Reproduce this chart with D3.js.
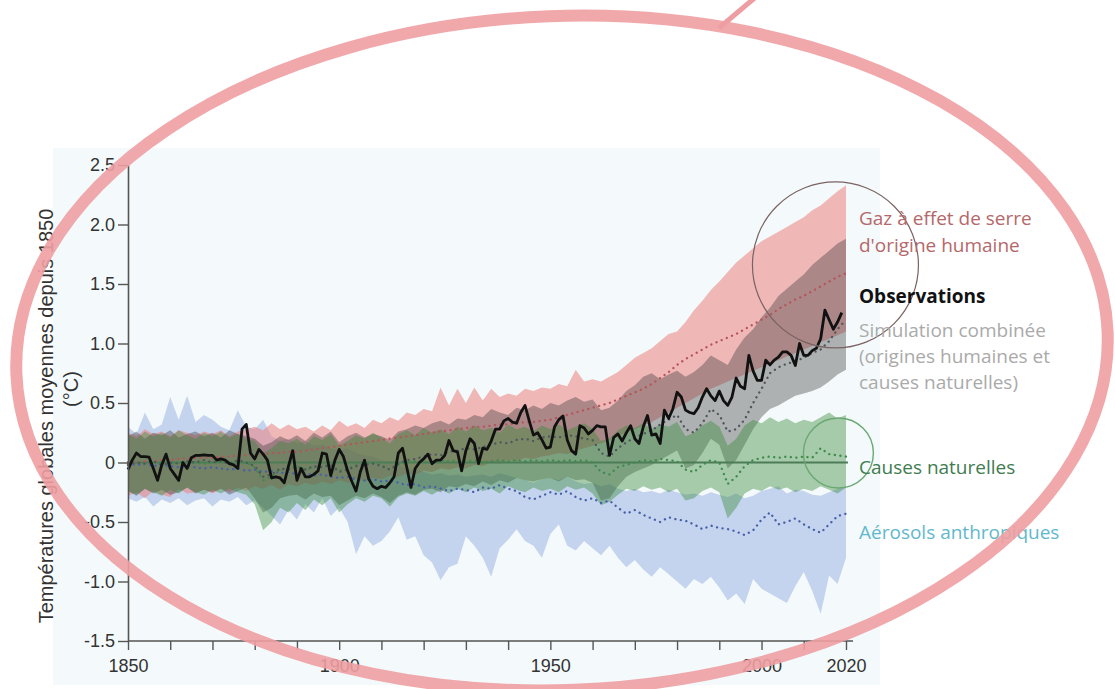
<!DOCTYPE html>
<html>
<head>
<meta charset="utf-8">
<script src="https://cdn.jsdelivr.net/npm/d3@7"></script>
<style>
body { margin: 0; background: #fff; }
svg { display: block; }
</style>
</head>
<body>
<script>
// observed annual anomalies, 1850 -> 2019
var obsStart = 1850;
var observations = [
  -0.06, 0.02, 0.08, 0.05, 0.05, 0.045, -0.05, -0.15, -0.02, 0.07,
  -0.05, -0.10, -0.15, 0.00, -0.05, 0.04, 0.06, 0.06, 0.065, 0.06,
  0.06, 0.02, 0.03, 0.02, -0.01, -0.02, -0.05, 0.28, 0.32, 0.08,
  0.03, 0.11, 0.07, 0.02, -0.13, -0.12, -0.13, -0.17, -0.03, 0.10,
  -0.15, -0.05, -0.12, -0.12, -0.10, -0.07, 0.08, 0.07, -0.11, 0.02,
  0.11, 0.05, -0.07, -0.16, -0.24, -0.08, 0.02, -0.14, -0.20, -0.22,
  -0.20, -0.21, -0.17, -0.12, 0.08, 0.12, -0.04, -0.21, -0.05, 0.00,
  0.03, 0.07, -0.01, 0.02, 0.02, 0.06, 0.185, 0.10, 0.09, -0.07,
  0.10, 0.20, 0.16, -0.01, 0.12, 0.11, 0.18, 0.28, 0.28, 0.35,
  0.37, 0.34, 0.33, 0.42, 0.48, 0.35, 0.23, 0.25, 0.19, 0.12,
  0.13, 0.30, 0.36, 0.39, 0.19, 0.10, 0.07, 0.31, 0.29, 0.24,
  0.27, 0.31, 0.30, 0.30, 0.06, 0.21, 0.24, 0.18, 0.25, 0.31,
  0.20, 0.16, 0.30, 0.395, 0.23, 0.24, 0.16, 0.44, 0.37, 0.45,
  0.59, 0.55, 0.44, 0.42, 0.41, 0.46, 0.55, 0.62, 0.56, 0.52,
  0.60, 0.52, 0.48, 0.55, 0.71, 0.64, 0.62, 0.90, 0.77, 0.69,
  0.69, 0.86, 0.82, 0.86, 0.885, 0.93, 0.93, 0.90, 0.815, 1.00,
  0.90, 0.90, 0.94, 0.96, 1.04, 1.28, 1.20, 1.12, 1.18, 1.26
];

// model ranges, every 2 years 1850 -> 2020
var bandYears = d3.range(1850, 2021, 2);

var ghgMean = [
  0.00, 0.00, 0.01, 0.01, 0.02, 0.02, 0.03, 0.03, 0.04, 0.04,
  0.04, 0.05, 0.05, 0.06, 0.06, 0.07, 0.07, 0.08, 0.08, 0.09,
  0.09, 0.10, 0.11, 0.12, 0.13, 0.14, 0.15, 0.16, 0.17, 0.18,
  0.19, 0.20, 0.21, 0.22, 0.23, 0.24, 0.25, 0.26, 0.27, 0.28,
  0.29, 0.30, 0.30, 0.31, 0.32, 0.32, 0.33, 0.34, 0.34, 0.35,
  0.36, 0.38, 0.40, 0.42, 0.44, 0.46, 0.48, 0.50, 0.53, 0.56,
  0.59, 0.62, 0.66, 0.71, 0.76, 0.82, 0.87, 0.91, 0.95, 0.99,
  1.02, 1.05, 1.08, 1.12, 1.16, 1.20, 1.24, 1.29, 1.33, 1.37,
  1.40, 1.44, 1.48, 1.52, 1.56, 1.59
];
var ghgHi = [
  0.25, 0.22, 0.28, 0.24, 0.26, 0.22, 0.27, 0.25, 0.23, 0.26,
  0.24, 0.27, 0.22, 0.26, 0.28, 0.30, 0.27, 0.33, 0.28, 0.32,
  0.28, 0.30, 0.26, 0.31, 0.27, 0.35, 0.30, 0.33, 0.29, 0.36,
  0.33, 0.38, 0.35, 0.42, 0.40, 0.45, 0.43, 0.63, 0.48, 0.62,
  0.50, 0.63, 0.52, 0.62, 0.55, 0.58, 0.56, 0.62, 0.60, 0.63,
  0.62, 0.66, 0.64, 0.78, 0.68, 0.70, 0.68, 0.72, 0.76, 0.82,
  0.88, 0.92, 0.96, 1.02, 1.08, 1.10, 1.18, 1.28, 1.36, 1.45,
  1.52, 1.60, 1.68, 1.74, 1.80, 1.86, 1.90, 1.94, 1.98, 2.02,
  2.06, 2.12, 2.16, 2.22, 2.28, 2.33
];
var ghgLo = [
  -0.28, -0.25, -0.30, -0.24, -0.27, -0.29, -0.22, -0.26, -0.25, -0.23,
  -0.26, -0.22, -0.25, -0.21, -0.24, -0.20, -0.22, -0.19, -0.23, -0.18,
  -0.20, -0.17, -0.19, -0.16, -0.18, -0.15, -0.17, -0.14, -0.16, -0.13,
  -0.14, -0.11, -0.12, -0.09, -0.10, -0.07, -0.08, -0.05, -0.06, -0.04,
  -0.05, -0.02, -0.03, 0.00, -0.01, 0.02, 0.01, 0.04, 0.03, 0.05,
  0.06, 0.08, 0.07, 0.10, 0.12, 0.14, 0.16, 0.19, 0.22, 0.25,
  0.28, 0.31, 0.34, 0.38, 0.42, 0.46, 0.50, 0.54, 0.58, 0.62,
  0.65, 0.68, 0.71, 0.74, 0.77, 0.80, 0.83, 0.86, 0.89, 0.92,
  0.95, 0.98, 1.01, 1.04, 1.07, 1.10
];

var combMean = [
  -0.02, 0.00, -0.01, 0.01, -0.02, 0.00, -0.01, 0.01, 0.00, 0.02,
  0.00, 0.01, -0.01, 0.02, 0.00, -0.03, -0.12, -0.10, -0.05, -0.06,
  -0.04, -0.06, -0.03, -0.04, -0.02, -0.08, -0.06, -0.03, -0.02, -0.01,
  -0.03, -0.06, -0.01, 0.02, 0.03, 0.05, 0.07, 0.06, 0.09, 0.10,
  0.12, 0.11, 0.13, 0.15, 0.17, 0.16, 0.19, 0.20, 0.18, 0.21,
  0.22, 0.21, 0.23, 0.22, 0.20, 0.19, 0.08, 0.05, 0.12, 0.17,
  0.21, 0.24, 0.27, 0.32, 0.36, 0.40, 0.28, 0.25, 0.33, 0.45,
  0.40, 0.26, 0.28, 0.36, 0.50, 0.62, 0.75, 0.80, 0.83, 0.85,
  0.88, 0.92, 0.95, 1.02, 1.12, 1.20
];
var combHi = [
  0.22, 0.26, 0.20, 0.25, 0.23, 0.27, 0.21, 0.24, 0.26, 0.22,
  0.25, 0.21, 0.27, 0.24, 0.22, 0.20, 0.14, 0.17, 0.22, 0.19,
  0.23, 0.18, 0.25, 0.21, 0.26, 0.17, 0.22, 0.25, 0.21, 0.24,
  0.22, 0.19, 0.26, 0.28, 0.31, 0.29, 0.33, 0.35, 0.32, 0.37,
  0.36, 0.40, 0.38, 0.45, 0.42, 0.40, 0.46, 0.44, 0.48, 0.45,
  0.50, 0.48, 0.52, 0.55, 0.51, 0.53, 0.44, 0.46, 0.52, 0.60,
  0.65, 0.72, 0.75, 0.70, 0.74, 0.77, 0.72, 0.76, 0.82, 0.90,
  0.86, 0.82, 0.95, 1.05, 1.12, 1.22, 1.30, 1.40, 1.46, 1.52,
  1.58, 1.66, 1.72, 1.78, 1.84, 1.88
];
var combLo = [
  -0.24, -0.28, -0.22, -0.26, -0.23, -0.27, -0.25, -0.21, -0.26, -0.23,
  -0.25, -0.22, -0.27, -0.24, -0.21, -0.30, -0.42, -0.38, -0.30, -0.28,
  -0.27, -0.31, -0.26, -0.29, -0.28, -0.36, -0.32, -0.28, -0.30, -0.26,
  -0.29, -0.34, -0.28, -0.25, -0.27, -0.23, -0.22, -0.25, -0.20, -0.21,
  -0.18, -0.20, -0.16, -0.19, -0.15, -0.17, -0.13, -0.15, -0.16, -0.14,
  -0.13, -0.16, -0.12, -0.15, -0.14, -0.17, -0.32, -0.30, -0.20, -0.12,
  -0.08, -0.05, -0.02, 0.02, 0.06, 0.10, -0.05, -0.02, 0.08, 0.20,
  0.15, -0.05, 0.02, 0.15, 0.28, 0.38, 0.45, 0.48, 0.52, 0.56,
  0.58, 0.60, 0.63, 0.68, 0.74, 0.78
];

var natMean = [
  0.00, 0.01, -0.01, 0.00, 0.01, -0.01, 0.00, 0.01, 0.00, -0.01,
  0.00, 0.01, 0.00, -0.01, 0.00, -0.04, -0.15, -0.12, -0.06, -0.05,
  -0.03, -0.06, -0.04, -0.03, -0.02, -0.07, -0.05, -0.02, -0.01, 0.00,
  -0.02, -0.06, -0.02, 0.00, 0.01, 0.00, 0.01, 0.02, 0.01, 0.02,
  0.01, 0.02, 0.00, 0.01, 0.02, 0.01, 0.02, 0.01, 0.02, 0.01,
  0.02, 0.01, 0.02, 0.01, 0.02, 0.00, -0.08, -0.10, -0.04, -0.02,
  0.00, 0.02, 0.01, 0.03, 0.02, 0.01, -0.06, -0.08, -0.02, 0.02,
  0.00, -0.18, -0.12, -0.03, 0.02, 0.04, 0.05, 0.04, 0.05, 0.04,
  0.05, 0.04, 0.12, 0.07, 0.06, 0.05
];
var natHi = [
  0.24, 0.20, 0.26, 0.22, 0.25, 0.21, 0.27, 0.23, 0.20, 0.25,
  0.22, 0.26, 0.21, 0.24, 0.20, 0.18, 0.08, 0.12, 0.18, 0.16,
  0.20, 0.15, 0.22, 0.19, 0.24, 0.14, 0.18, 0.23, 0.20, 0.25,
  0.21, 0.16, 0.24, 0.27, 0.23, 0.29, 0.25, 0.28, 0.24, 0.30,
  0.26, 0.31, 0.27, 0.29, 0.25, 0.32, 0.28, 0.30, 0.26, 0.31,
  0.28, 0.32, 0.27, 0.30, 0.33, 0.28, 0.18, 0.20, 0.27, 0.31,
  0.29, 0.33, 0.28, 0.32, 0.30, 0.34, 0.22, 0.25, 0.31, 0.35,
  0.30, 0.14, 0.20, 0.31, 0.36, 0.33, 0.38, 0.34, 0.37, 0.33,
  0.36, 0.34, 0.38, 0.42, 0.37, 0.40
];
var natLo = [
  -0.24, -0.27, -0.22, -0.25, -0.28, -0.23, -0.26, -0.21, -0.25, -0.27,
  -0.23, -0.26, -0.22, -0.25, -0.27, -0.35, -0.57, -0.50, -0.38, -0.42,
  -0.34, -0.40, -0.31, -0.36, -0.30, -0.42, -0.35, -0.30, -0.33, -0.28,
  -0.30, -0.37, -0.29, -0.26, -0.28, -0.24, -0.27, -0.23, -0.26, -0.22,
  -0.25, -0.21, -0.24, -0.22, -0.26, -0.20, -0.23, -0.25, -0.21, -0.24,
  -0.22, -0.25, -0.20, -0.23, -0.21, -0.26, -0.36, -0.33, -0.27, -0.22,
  -0.24, -0.20, -0.23, -0.21, -0.25, -0.22, -0.32, -0.30, -0.24, -0.21,
  -0.25, -0.47, -0.38, -0.26, -0.22, -0.24, -0.20, -0.23, -0.21, -0.25,
  -0.22, -0.24, -0.20, -0.23, -0.26, -0.21
];

var aerMean = [
  -0.01, -0.02, -0.01, -0.03, -0.02, -0.03, -0.04, -0.03, -0.04, -0.05,
  -0.04, -0.05, -0.06, -0.05, -0.07, -0.06, -0.08, -0.07, -0.09, -0.08,
  -0.10, -0.09, -0.11, -0.10, -0.12, -0.13, -0.12, -0.14, -0.15, -0.14,
  -0.16, -0.15, -0.17, -0.19, -0.18, -0.21, -0.20, -0.22, -0.24, -0.22,
  -0.23, -0.25, -0.21, -0.22, -0.19, -0.22, -0.24, -0.29, -0.31, -0.28,
  -0.25, -0.27, -0.24, -0.29, -0.32, -0.30, -0.34, -0.32, -0.38, -0.43,
  -0.40, -0.44, -0.47, -0.50, -0.46, -0.48, -0.49, -0.52, -0.56, -0.53,
  -0.55, -0.56, -0.58, -0.61, -0.57, -0.48, -0.42, -0.52, -0.50, -0.47,
  -0.52, -0.56, -0.59, -0.52, -0.45, -0.43
];
var aerHi = [
  0.30, 0.24, 0.42, 0.28, 0.32, 0.55, 0.36, 0.56, 0.34, 0.40,
  0.36, 0.30, 0.27, 0.44, 0.30, 0.28, 0.36, 0.22, 0.18, 0.20,
  0.16, 0.18, 0.14, 0.15, 0.12, 0.10, 0.12, 0.08, 0.06, 0.05,
  0.02, 0.00, -0.02, -0.05, -0.06, -0.08, -0.10, -0.09, -0.11, -0.10,
  -0.12, -0.11, -0.10, -0.12, -0.09, -0.11, -0.13, -0.15, -0.17, -0.14,
  -0.13, -0.15, -0.12, -0.16, -0.18, -0.17, -0.20, -0.18, -0.22, -0.24,
  -0.22, -0.25, -0.24, -0.26, -0.23, -0.25, -0.27, -0.26, -0.28, -0.25,
  -0.27, -0.29, -0.26, -0.30, -0.28, -0.24, -0.22, -0.20, -0.26, -0.23,
  -0.24, -0.27, -0.28, -0.25, -0.22, -0.20
];
var aerLo = [
  -0.30, -0.33, -0.29, -0.37, -0.31, -0.34, -0.30, -0.36, -0.32, -0.30,
  -0.37, -0.31, -0.33, -0.29, -0.36, -0.32, -0.38, -0.45, -0.52, -0.40,
  -0.48, -0.35, -0.42, -0.30, -0.45, -0.38, -0.50, -0.77, -0.62, -0.70,
  -0.66, -0.58, -0.46, -0.65, -0.62, -0.78, -0.84, -0.99, -0.88, -0.85,
  -0.62, -0.70, -0.80, -0.96, -0.72, -0.65, -0.56, -0.66, -0.70, -0.80,
  -0.60, -0.52, -0.70, -0.74, -0.66, -0.72, -0.78, -0.70, -0.80, -0.88,
  -0.82, -0.90, -0.96, -0.88, -0.94, -1.00, -1.06, -0.98, -1.02, -0.96,
  -1.05, -1.16, -1.10, -1.19, -0.98, -1.06, -1.10, -1.14, -1.18, -1.04,
  -0.92, -1.08, -1.27, -0.95, -1.02, -0.80
];

var yTicks = [-1.5, -1.0, -0.5, 0, 0.5, 1.0, 1.5, 2.0, 2.5];
var xTicks = d3.range(1850, 2021, 10);
var xLabels = [1850, 1900, 1950, 2000, 2020];

var margin = {top: 165, left: 128},
    width = 718,
    height = 476;

var svg = d3.select("body")
    .append("svg")
    .attr("width", 1115)
    .attr("height", 689);

// pale panel behind the figure
svg.append("rect")
    .attr("x", 53).attr("y", 148)
    .attr("width", 827).attr("height", 537)
    .attr("fill", "#f4fafb");

var g = svg.append("g")
    .attr("transform", "translate(" + margin.left + "," + margin.top + ")");

var x = d3.scaleLinear().domain([1850, 2020]).range([0, width]);
var y = d3.scaleLinear().domain([-1.5, 2.5]).range([height, 0]);

function rows(lo, hi, mid) {
    return bandYears.map(function(yr, i) {
        return {year: yr, lo: lo[i], hi: hi[i], mid: mid[i]};
    });
}

var aer = rows(aerLo, aerHi, aerMean),
    ghg = rows(ghgLo, ghgHi, ghgMean),
    comb = rows(combLo, combHi, combMean),
    nat = rows(natLo, natHi, natMean);

var area = d3.area()
    .x(function(d) { return x(d.year); })
    .y0(function(d) { return y(d.lo); })
    .y1(function(d) { return y(d.hi); });

var midLine = d3.line()
    .x(function(d) { return x(d.year); })
    .y(function(d) { return y(d.mid); });

g.append("path").datum(aer).attr("d", area).attr("fill", "#9db5e3").attr("fill-opacity", 0.55);
g.append("path").datum(ghg).attr("d", area).attr("fill", "#ec8080").attr("fill-opacity", 0.55);
g.append("path").datum(comb).attr("d", area).attr("fill", "#3a3a3a").attr("fill-opacity", 0.38);
g.append("path").datum(nat).attr("d", area).attr("fill", "#3a8a3a").attr("fill-opacity", 0.42);

// zero line
g.append("line")
    .attr("x1", 0).attr("x2", x(2020) + 2)
    .attr("y1", y(0)).attr("y2", y(0))
    .attr("stroke", "#4d7d57")
    .attr("stroke-width", 1.8);

var dotted = [
    {data: aer, color: "#4660a8"},
    {data: nat, color: "#3f8a4c"},
    {data: ghg, color: "#b5545a"},
    {data: comb, color: "#50565c"}
];
dotted.forEach(function(s) {
    g.append("path").datum(s.data)
        .attr("d", midLine)
        .attr("fill", "none")
        .attr("stroke", s.color)
        .attr("stroke-width", 2.3)
        .attr("stroke-dasharray", "0.1,5.5")
        .attr("stroke-linecap", "round");
});

var obsLine = d3.line()
    .x(function(d, i) { return x(obsStart + i); })
    .y(function(d) { return y(d); });

g.append("path").datum(observations)
    .attr("d", obsLine)
    .attr("fill", "none")
    .attr("stroke", "#111")
    .attr("stroke-width", 2.8)
    .attr("stroke-linejoin", "round");

// axes
var yAxis = g.append("g")
    .call(d3.axisLeft(y)
        .tickValues(yTicks)
        .tickSize(10)
        .tickSizeOuter(0)
        .tickPadding(3)
        .tickFormat(function(d) { return d === 0 ? "0" : d.toFixed(1); }));

var xAxis = g.append("g")
    .attr("transform", "translate(0," + height + ")")
    .call(d3.axisBottom(x)
        .tickValues(xTicks)
        .tickSize(9)
        .tickSizeOuter(0)
        .tickPadding(9)
        .tickFormat(function(d) { return xLabels.indexOf(d) >= 0 ? d : ""; }));

xAxis.select(".domain").attr("d", "M0,0H" + (x(2020) + 7));

[yAxis, xAxis].forEach(function(a) {
    a.select(".domain").attr("stroke", "#555").attr("stroke-width", 1.6);
    a.selectAll(".tick line").attr("stroke", "#555").attr("stroke-width", 1.4);
    a.selectAll(".tick text")
        .attr("fill", "#333")
        .style("font-family", "'Liberation Sans', Arial, sans-serif")
        .style("font-size", "18px");
});

svg.append("text")
    .attr("transform", "translate(46,416) rotate(-90)")
    .attr("text-anchor", "middle")
    .attr("dy", "0.35em")
    .style("font-family", "'Liberation Sans', Arial, sans-serif")
    .style("font-size", "20px")
    .attr("fill", "#333")
    .text("Températures globales moyennes depuis 1850");

svg.append("text")
    .attr("transform", "translate(71,389) rotate(-90)")
    .attr("text-anchor", "middle")
    .attr("dy", "0.35em")
    .style("font-family", "'Liberation Sans', Arial, sans-serif")
    .style("font-size", "20px")
    .attr("fill", "#333")
    .text("(°C)");

// labels on the right
var legend = [
    {t: "Gaz à effet de serre", y: 225, c: "#b4686a", w: 400},
    {t: "d'origine humaine", y: 252, c: "#b4686a", w: 400},
    {t: "Observations", y: 303, c: "#111", w: 700},
    {t: "Simulation combinée", y: 337, c: "#aaaaaa", w: 400},
    {t: "(origines humaines et", y: 363, c: "#aaaaaa", w: 400},
    {t: "causes naturelles)", y: 389, c: "#aaaaaa", w: 400},
    {t: "Causes naturelles", y: 474, c: "#3f7c50", w: 400},
    {t: "Aérosols anthropiques", y: 539, c: "#62b8cb", w: 400}
];
svg.selectAll(".lab")
    .data(legend)
    .enter().append("text")
    .attr("class", "lab")
    .attr("x", 859)
    .attr("y", function(d) { return d.y; })
    .attr("fill", function(d) { return d.c; })
    .style("font-family", "'Open Sans', sans-serif")
    .style("font-size", "19px")
    .style("font-weight", function(d) { return d.w; })
    .text(function(d) { return d.t; });

// highlight circles
g.append("circle")
    .attr("cx", x(2017.5)).attr("cy", y(1.66)).attr("r", 83)
    .attr("fill", "none").attr("stroke", "#7a6262").attr("stroke-width", 1.2);
g.append("circle")
    .attr("cx", x(2018.2)).attr("cy", y(0.08)).attr("r", 35)
    .attr("fill", "none").attr("stroke", "#6aa872").attr("stroke-width", 1.4);

// red ring drawn over the figure
svg.append("ellipse")
    .attr("cx", 562).attr("cy", 353)
    .attr("rx", 546).attr("ry", 337)
    .attr("transform", "rotate(-2.2,562,353)")
    .attr("fill", "none")
    .attr("stroke", "#ee9ea2")
    .attr("stroke-opacity", 0.9)
    .attr("stroke-width", 12);

svg.append("line")
    .attr("x1", 719).attr("y1", 28)
    .attr("x2", 757).attr("y2", -4)
    .attr("stroke", "#ee9ea2")
    .attr("stroke-width", 5);
</script>
</body>
</html>
